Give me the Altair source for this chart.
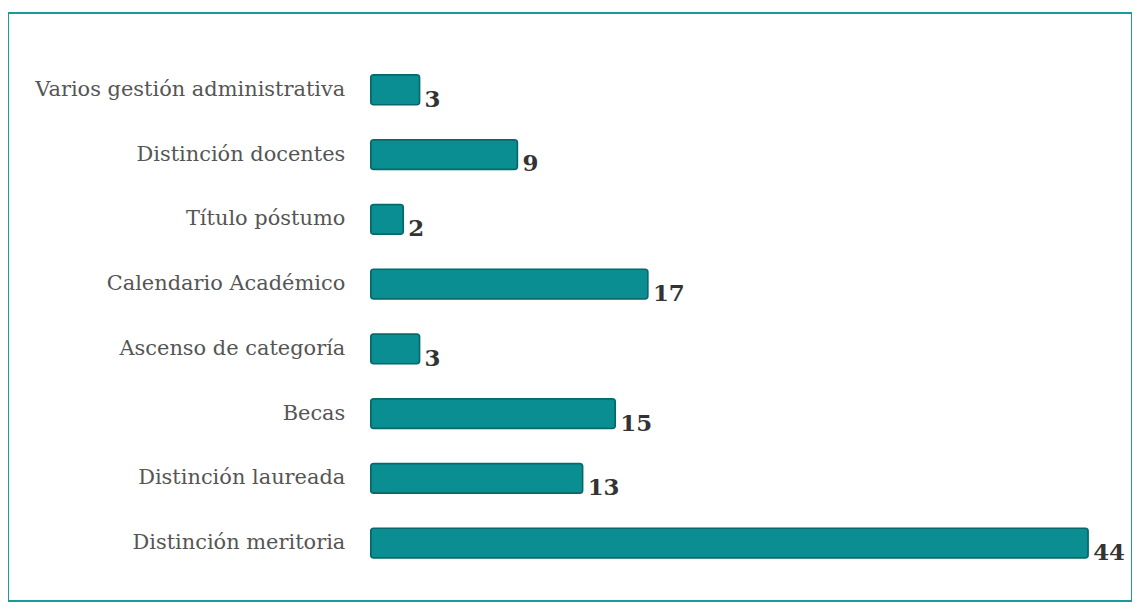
import altair as alt
import pandas as pd

categories = [
    "Varios gestión administrativa",
    "Distinción docentes",
    "Título póstumo",
    "Calendario Académico",
    "Ascenso de categoría",
    "Becas",
    "Distinción laureada",
    "Distinción meritoria",
]
values = [3, 9, 2, 17, 3, 15, 13, 44]

df = pd.DataFrame({"cat": categories, "val": values})

x_enc = alt.X("val:Q", axis=None, scale=alt.Scale(domain=[0, 44], range=[364, 1084], nice=False, zero=True))
y_enc = alt.Y(
    "cat:N",
    sort=categories,
    title=None,
    scale=alt.Scale(range=[44.5, 564.5], paddingInner=0.54, paddingOuter=0.27),
    axis=alt.Axis(
        offset=-364,
        domain=False,
        ticks=False,
        labelPadding=26,
        labelFont="DejaVu Serif",
        labelFontSize=21,
        labelColor="#555555",
        labelLimit=400,
    ),
)

bars = alt.Chart(df).mark_bar(
    color="#0a8e91", stroke="#06686b", strokeWidth=1.5, cornerRadius=3
).encode(x=x_enc, y=y_enc)

labels = alt.Chart(df).mark_text(
    align="left", baseline="middle", dx=5, dy=10,
    font="DejaVu Serif", fontSize=23, fontWeight="bold", color="#333333"
).encode(x=x_enc, y=y_enc, text="val:Q")

chart = (bars + labels).properties(
    width=1128, height=590,
    padding={"left": 0, "top": 4, "right": 0, "bottom": 0},
    autosize=alt.AutoSizeParams(type="none"),
).configure_view(stroke="#1a9a9b", strokeWidth=2)

chart.save("out.html", embed_options={"renderer": "svg", "actions": False})
